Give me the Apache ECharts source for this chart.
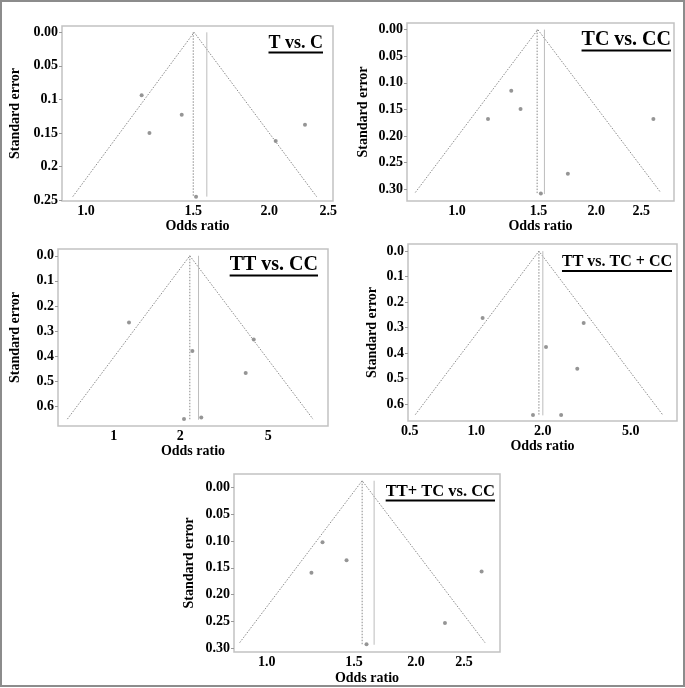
<!DOCTYPE html>
<html><head><meta charset="utf-8">
<script src="https://cdn.jsdelivr.net/npm/echarts@6/dist/echarts.min.js"></script>
<style>html,body{margin:0;padding:0;background:#fff}#c{width:685px;height:688px}</style>
</head><body><div id="c"></div>
<script>
// ---------- DATA ----------
const titles = ["T vs. C", "TC vs. CC", "TT vs. CC", "TT vs. TC + CC", "TT+ TC vs. CC"];

// Panel 1: T vs. C
const p1_or = [1.234, 1.271, 1.436, 1.516, 2.049, 2.289];
const p1_se = [0.094, 0.150, 0.123, 0.245, 0.162, 0.138];
const p1_funnelOR = [0.951, 1.505, 2.392];
const p1_funnelSE = [0.245, 0.0, 0.245];
const p1_pooled = 1.50, p1_alt = 1.579, p1_lineSE = [0.0, 0.245];
const p1_xTicks = [1.0, 1.5, 2.0, 2.5], p1_xLabels = ["1.0", "1.5", "2.0", "2.5"];
const p1_yTicks = [0, 0.05, 0.1, 0.15, 0.2, 0.25], p1_yLabels = ["0.00", "0.05", "0.1", "0.15", "0.2", "0.25"];

// Panel 2: TC vs. CC
const p2_or = [1.167, 1.310, 1.372, 1.518, 1.736, 2.656];
const p2_se = [0.168, 0.115, 0.149, 0.308, 0.271, 0.168];
const p2_funnelOR = [0.813, 1.495, 2.754];
const p2_funnelSE = [0.306, 0.0, 0.306];
const p2_pooled = 1.49, p2_alt = 1.545, p2_lineSE = [0.0, 0.309];
const p2_xTicks = [1.0, 1.5, 2.0, 2.5], p2_xLabels = ["1.0", "1.5", "2.0", "2.5"];
const p2_yTicks = [0, 0.05, 0.10, 0.15, 0.20, 0.25, 0.30], p2_yLabels = ["0.00", "0.05", "0.10", "0.15", "0.20", "0.25", "0.30"];

// Panel 3: TT vs. CC
const p3_or = [1.173, 2.27, 2.08, 2.49, 4.30, 3.955];
const p3_se = [0.266, 0.379, 0.650, 0.644, 0.333, 0.467];
const p3_funnelOR = [0.6175, 2.21, 7.97];
const p3_funnelSE = [0.6505, 0.0, 0.6505];
const p3_pooled = 2.21, p3_alt = 2.42, p3_lineSE = [0.0, 0.653];
const p3_xTicks = [1, 2, 5], p3_xLabels = ["1", "2", "5"];
const p3_yTicks = [0, 0.1, 0.2, 0.3, 0.4, 0.5, 0.6], p3_yLabels = ["0.0", "0.1", "0.2", "0.3", "0.4", "0.5", "0.6"];

// Panel 4: TT vs. TC + CC
const p4_or = [1.068, 2.067, 1.805, 2.42, 3.06, 2.863];
const p4_se = [0.263, 0.376, 0.643, 0.643, 0.282, 0.462];
const p4_funnelOR = [0.530, 1.92, 6.96];
const p4_funnelSE = [0.642, 0.0, 0.642];
const p4_pooled = 1.92, p4_alt = 2.0, p4_lineSE = [0.0, 0.645];
const p4_xTicks = [0.5, 1, 2, 5], p4_xLabels = ["0.5", "1.0", "2.0", "5.0"];
const p4_yTicks = [0, 0.1, 0.2, 0.3, 0.4, 0.5, 0.6], p4_yLabels = ["0.0", "0.1", "0.2", "0.3", "0.4", "0.5", "0.6"];

// Panel 5: TT+ TC vs. CC
const p5_or = [1.296, 1.231, 1.449, 1.59, 2.289, 2.714];
const p5_se = [0.102, 0.159, 0.136, 0.293, 0.253, 0.157];
const p5_funnelOR = [0.882, 1.558, 2.757];
const p5_funnelSE = [0.290, -0.013, 0.290];
const p5_pooled = 1.558, p5_alt = 1.647, p5_lineSE = [-0.013, 0.294];
const p5_xTicks = [1.0, 1.5, 2.0, 2.5], p5_xLabels = ["1.0", "1.5", "2.0", "2.5"];
const p5_yTicks = [0, 0.05, 0.10, 0.15, 0.20, 0.25, 0.30], p5_yLabels = ["0.00", "0.05", "0.10", "0.15", "0.20", "0.25", "0.30"];

// ---------- LAYOUT / STYLE ----------
const FONT = '"Liberation Serif", "Times New Roman", serif';
const panels = [
  {or: p1_or, se: p1_se, fOR: p1_funnelOR, fSE: p1_funnelSE, pooled: p1_pooled, alt: p1_alt, lineSE: p1_lineSE,
   xT: p1_xTicks, xL: p1_xLabels, yT: p1_yTicks, yL: p1_yLabels,
   grid: {left: 62, top: 26, width: 271, height: 175}, xr: [0.913, 2.545], yr: [-0.0094, 0.2515],
   yGap: 40, xGap: 16, title: {right: 323, base: 49, fs: 18}},
  {or: p2_or, se: p2_se, fOR: p2_funnelOR, fSE: p2_funnelSE, pooled: p2_pooled, alt: p2_alt, lineSE: p2_lineSE,
   xT: p2_xTicks, xL: p2_xLabels, yT: p2_yTicks, yL: p2_yLabels,
   grid: {left: 407, top: 23, width: 267, height: 178}, xr: [0.780, 2.943], yr: [-0.0124, 0.322],
   yGap: 37, xGap: 12, title: {right: 671, base: 47, fs: 20}},
  {or: p3_or, se: p3_se, fOR: p3_funnelOR, fSE: p3_funnelSE, pooled: p3_pooled, alt: p3_alt, lineSE: p3_lineSE,
   xT: p3_xTicks, xL: p3_xLabels, yT: p3_yTicks, yL: p3_yLabels,
   grid: {left: 58, top: 249, width: 270, height: 177}, xr: [0.560, 9.32], yr: [-0.027, 0.678],
   yGap: 36, xGap: 14, title: {right: 318, base: 272, fs: 20}},
  {or: p4_or, se: p4_se, fOR: p4_funnelOR, fSE: p4_funnelSE, pooled: p4_pooled, alt: p4_alt, lineSE: p4_lineSE,
   xT: p4_xTicks, xL: p4_xLabels, yT: p4_yTicks, yL: p4_yLabels,
   grid: {left: 408, top: 244, width: 269, height: 177}, xr: [0.491, 8.09], yr: [-0.028, 0.667],
   yGap: 29, xGap: 17, title: {right: 672, base: 267.5, fs: 16}},
  {or: p5_or, se: p5_se, fOR: p5_funnelOR, fSE: p5_funnelSE, pooled: p5_pooled, alt: p5_alt, lineSE: p5_lineSE,
   xT: p5_xTicks, xL: p5_xLabels, yT: p5_yTicks, yL: p5_yLabels,
   grid: {left: 234, top: 474, width: 266, height: 178}, xr: [0.859, 2.956], yr: [-0.0256, 0.3075],
   yGap: 38, xGap: 19, title: {right: 495, base: 497, fs: 16.5}}
];

const ln = Math.log;
const grids = [], xAxes = [], yAxes = [], series = [], graphics = [];
const mctx = document.createElement('canvas').getContext('2d');

function lookup(vals, labels, v, f) {
  for (let i = 0; i < vals.length; i++) if (Math.abs(f(vals[i]) - v) < 1e-6) return labels[i];
  return '';
}

panels.forEach((p, i) => {
  grids.push(Object.assign({show: true, borderColor: '#c2c2c2', borderWidth: 1.5, containLabel: false}, p.grid));
  xAxes.push({
    type: 'value', gridIndex: i, min: ln(p.xr[0]), max: ln(p.xr[1]),
    axisLine: {show: false, onZero: false}, axisTick: {show: false}, splitLine: {show: false},
    axisLabel: {customValues: p.xT.map(ln), formatter: v => lookup(p.xT, p.xL, v, ln),
      fontFamily: FONT, fontWeight: 'bold', fontSize: 14, color: '#000', margin: 3},
    name: 'Odds ratio', nameLocation: 'middle', nameGap: p.xGap,
    nameTextStyle: {fontFamily: FONT, fontWeight: 'bold', fontSize: 14, color: '#000', verticalAlign: 'top'}
  });
  yAxes.push({
    type: 'value', gridIndex: i, inverse: true, min: p.yr[0], max: p.yr[1],
    axisLine: {show: false, onZero: false}, splitLine: {show: false},
    axisTick: {show: true, customValues: p.yT, length: 3, lineStyle: {color: '#999', width: 1}},
    axisLabel: {customValues: p.yT, formatter: v => lookup(p.yT, p.yL, v, x => x),
      fontFamily: FONT, fontWeight: 'bold', fontSize: 14, color: '#000', margin: 4},
    name: 'Standard error', nameLocation: 'middle', nameGap: p.yGap, nameRotate: 90,
    nameTextStyle: {fontFamily: FONT, fontWeight: 'bold', fontSize: 14, color: '#000'}
  });
  // funnel
  series.push({type: 'line', xAxisIndex: i, yAxisIndex: i, showSymbol: false, silent: true,
    data: p.fOR.map((o, j) => [ln(o), p.fSE[j]]),
    lineStyle: {color: '#8a8a8a', width: 1, type: [1.5, 1.5]}});
  // pooled estimate (dotted)
  series.push({type: 'line', xAxisIndex: i, yAxisIndex: i, showSymbol: false, silent: true,
    data: p.lineSE.map(s => [ln(p.pooled), s]),
    lineStyle: {color: '#8a8a8a', width: 1, type: [1.5, 1.5]}});
  // adjusted estimate (solid light)
  series.push({type: 'line', xAxisIndex: i, yAxisIndex: i, showSymbol: false, silent: true,
    data: p.lineSE.map(s => [ln(p.alt), s]),
    lineStyle: {color: '#bdbdbd', width: 1, type: 'solid'}});
  // studies
  series.push({type: 'scatter', xAxisIndex: i, yAxisIndex: i, silent: true, symbol: 'circle', symbolSize: 4,
    data: p.or.map((o, j) => [ln(o), p.se[j]]),
    itemStyle: {color: '#7a7a7a'}});
  // title with underline
  const t = p.title;
  const fontStr = 'bold ' + t.fs + 'px ' + FONT;
  mctx.font = fontStr;
  const w = mctx.measureText(titles[i]).width;
  graphics.push({type: 'text', x: t.right, y: t.base - 0.3375 * t.fs, silent: true,
    style: {text: titles[i], font: fontStr, fill: '#000', align: 'right', verticalAlign: 'middle'}});
  graphics.push({type: 'line', silent: true,
    shape: {x1: t.right - w, y1: t.base + 3.5, x2: t.right, y2: t.base + 3.5},
    style: {stroke: '#000', lineWidth: 1.8}});
});

graphics.push({type: 'rect', silent: true, shape: {x: 1, y: 1, width: 683, height: 685},
  style: {fill: 'none', stroke: '#8c8c8c', lineWidth: 2}});

const chart = echarts.init(document.getElementById('c'), null, {renderer: 'canvas'});
chart.setOption({
  animation: false,
  backgroundColor: '#fff',
  grid: grids, xAxis: xAxes, yAxis: yAxes, series: series,
  graphic: {elements: graphics}
});
</script>
</body></html>
